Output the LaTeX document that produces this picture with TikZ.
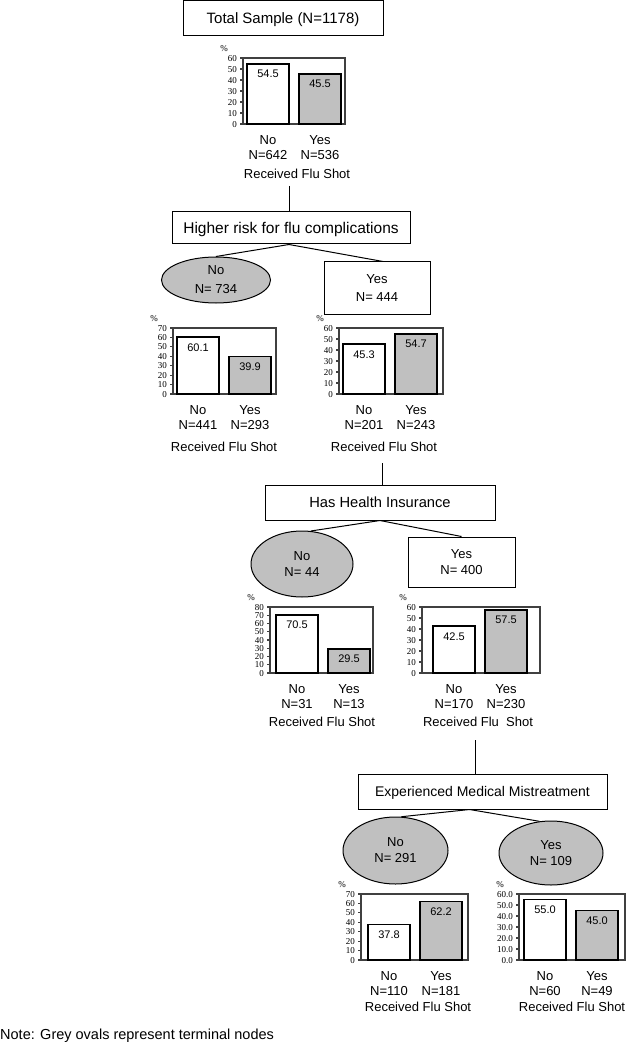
\documentclass[tikz,border=0pt]{standalone}
\usepackage{fontspec}
\setmainfont{Liberation Sans}
\newfontfamily\tickfont{Liberation Serif}
\usetikzlibrary{shapes.geometric}
\definecolor{ovalgrey}{RGB}{192,192,192}
\definecolor{framegrey}{RGB}{64,64,64}
\newcommand{\ticklabel}[1]{#1}
% #1 axis x, #2 frame right, #3 frame top, #4 left bar x, #5 axis max,
% #6 % no, #7 % yes, #8 N no, #9 N yes
\newcommand{\fluchart}[9]{%
  \pgfmathsetmacro{\chbase}{#3+66}
  \draw[chartframe] (#1,\chbase) -- (#1,#3) -- (#2,#3) -- (#2,\chbase) -- cycle;
  \foreach \t in {0,10,...,#5}{
    \draw[chartframe] (#1-3,{\chbase-\t/#5*66}) -- (#1,{\chbase-\t/#5*66});
    \node[ticklbl] (tick#8-\t) at (#1-6,{\chbase-\t/#5*66}) {\ticklabel{\t}};
  }
  \node[ticklbl,anchor=center] (pc#8) at (#1-19,#3-10) {\%};
  \draw[barno] (#4,\chbase) rectangle (#4+42,{\chbase-#6/#5*66});
  \draw[baryes] (#4+52,\chbase) rectangle (#4+94,{\chbase-#7/#5*66});
  \node[vallbl] (vno#8) at (#4+21,{\chbase-#6/#5*66+10}) {#6};
  \node[vallbl] (vyes#9) at (#4+73,{\chbase-#7/#5*66+10}) {#7};
  \node[lbl] (no#8) at (#4+21,\chbase+16) {No};
  \node[lbl] (yes#9) at (#4+73,\chbase+16) {Yes};
  \node[lbl] (nno#8) at (#4+21,\chbase+31) {N=#8};
  \node[lbl] (nyes#9) at (#4+73,\chbase+31) {N=#9};
}
\begin{document}
\begin{tikzpicture}[x=1pt,y=-1pt,
  titlebox/.style={draw, line width=1pt, inner sep=0pt, font=\fontsize{15}{18}\selectfont, text height=10.7pt, text depth=0pt},
  splitbox/.style={draw, line width=1pt, inner sep=0pt, align=center, font=\fontsize{13}{16}\selectfont},
  termoval/.style={ellipse, draw, fill=ovalgrey, line width=1pt, inner sep=0pt, align=center, font=\fontsize{13}{16}\selectfont},
  lbl/.style={inner sep=0pt, font=\fontsize{13}{15}\selectfont, text height=9.3pt, text depth=0pt},
  vallbl/.style={inner sep=0pt, font=\fontsize{11}{13}\selectfont, text height=7.9pt, text depth=0pt},
  ticklbl/.style={inner sep=0pt, anchor=east, font=\tickfont\fontsize{9}{9}\selectfont, text height=6.1pt, text depth=0pt},
  chartframe/.style={draw=framegrey, line width=1.2pt},
  barno/.style={draw=black, fill=white, line width=1.7pt},
  baryes/.style={draw=black, fill=ovalgrey, line width=1.7pt},
  branch/.style={line width=1pt}]
\useasboundingbox (0,0) rectangle (626,1048);
%%%% root
\node[titlebox, minimum width=200, minimum height=35] (total) at (283,18.5) {Total Sample (N=1178)};
\fluchart{243}{345}{58}{247}{60}{54.5}{45.5}{642}{536}
\node[lbl] (rfs0) at (297,174) {Received Flu Shot};
%%%% higher risk
\node[titlebox, minimum width=238, minimum height=32, font=\fontsize{15.5}{18}\selectfont] (risk) at (291,228) {Higher risk for flu complications};
\node[termoval, minimum width=109, minimum height=46, font=\fontsize{13}{19}\selectfont] (ell1) at (216,280) {No\\N= 734};
\node[splitbox, minimum width=106, minimum height=52, font=\fontsize{13}{18}\selectfont] (yes1) at (377,288) {Yes\\N= 444};
\fluchart{173}{276}{328}{177}{70}{60.1}{39.9}{441}{293}
\fluchart{339}{443}{328}{343}{60}{45.3}{54.7}{201}{243}
\node[lbl] (rfs1a) at (224,447) {Received Flu Shot};
\node[lbl] (rfs1b) at (384,447) {Received Flu Shot};
%%%% insurance
\node[titlebox, minimum width=230, minimum height=35, font=\fontsize{14.7}{18}\selectfont] (insure) at (380,502.5) {Has Health Insurance};
\node[termoval, minimum width=102, minimum height=66] (ell2) at (302,564) {No\\N= 44};
\node[splitbox, minimum width=107, minimum height=50] (yes2) at (461.5,562) {Yes\\N= 400};
\fluchart{270}{373}{607}{276}{80}{70.5}{29.5}{31}{13}
\fluchart{422}{540}{607}{433}{60}{42.5}{57.5}{170}{230}
\node[lbl] (rfs2a) at (322,722) {Received Flu Shot};
\node[lbl] (rfs2b) at (478,722) {Received Flu\ \ Shot};
%%%% mistreatment
\node[titlebox, minimum width=249, minimum height=35, font=\fontsize{14}{18}\selectfont] (mist) at (482.5,791.5) {Experienced Medical Mistreatment};
\node[termoval, minimum width=105, minimum height=67] (ell3) at (395.5,850.5) {No\\N= 291};
\node[termoval, minimum width=104, minimum height=64] (ell4) at (551,853) {Yes\\N= 109};
\fluchart{361}{468}{894}{368}{70}{37.8}{62.2}{110}{181}
\renewcommand{\ticklabel}[1]{#1.0}
\fluchart{519}{625}{894}{524}{60}{55.0}{45.0}{60}{49}
\node[lbl] (rfs3a) at (418,1007) {Received Flu Shot};
\node[lbl] (rfs3b) at (572,1007) {Received Flu Shot};
%%%% connectors
\coordinate (c0) at (289,186);
\draw[branch] (c0) -- (c0 |- risk.north);
\draw[branch] ([xshift=-2pt]risk.south) -- (ell1.north);
\draw[branch] ([xshift=-2pt]risk.south) -- ([xshift=6pt]yes1.north);
\coordinate (c1) at (382,463);
\draw[branch] (c1) -- (c1 |- insure.north);
\draw[branch] (insure.south) -- (ell2.75);
\draw[branch] (insure.south) -- (yes2.north);
\coordinate (c2) at (475,740);
\draw[branch] (c2) -- (c2 |- mist.north);
\draw[branch] ([xshift=-13pt]mist.south) -- (ell3.80);
\draw[branch] ([xshift=-13pt]mist.south) -- (ell4.110);
%%%% note
\node[anchor=west, inner sep=0pt, font=\fontsize{14.5}{17}\selectfont, text height=10.4pt, text depth=0pt] (note) at (0,1034) {Note: Grey ovals represent terminal nodes};
\end{tikzpicture}
\end{document}
